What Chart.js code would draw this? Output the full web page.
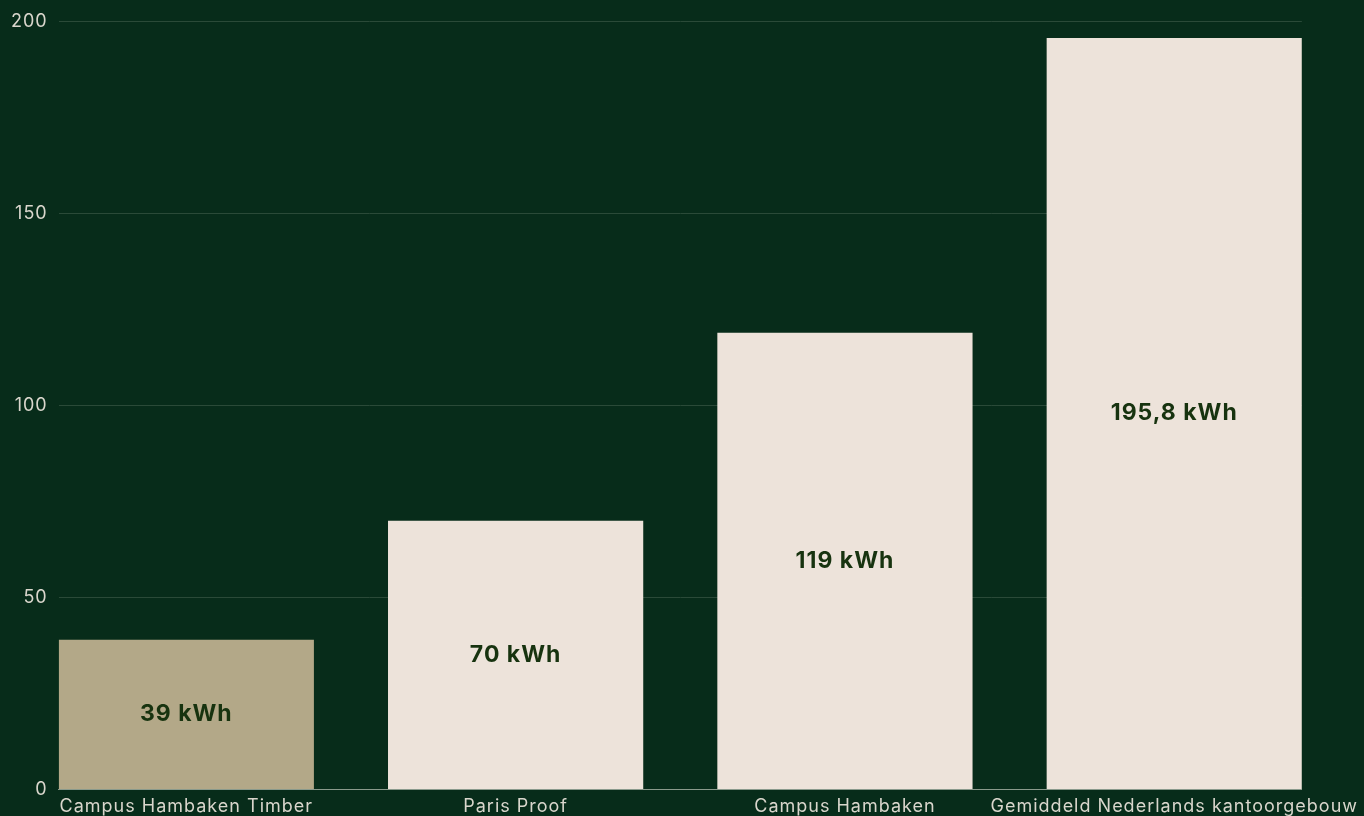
<!DOCTYPE html>
<html>
<head>
<meta charset="utf-8">
<script src="https://cdn.jsdelivr.net/npm/chart.js@4/dist/chart.umd.min.js"></script>
<style>
  html, body { margin: 0; padding: 0; background: #072c1a; }
  #wrap { width: 1364px; height: 816px; }
</style>
</head>
<body>
<div id="wrap"><canvas id="energyChart"></canvas></div>
<script>
const categories = ["Campus Hambaken Timber", "Paris Proof", "Campus Hambaken", "Gemiddeld Nederlands kantoorgebouw"];
const values = [39, 70, 119, 195.8];
const valueLabels = ["39 kWh", "70 kWh", "119 kWh", "195,8 kWh"];
const yTicks = [0, 50, 100, 150, 200];

const barColors = ["#b3a888", "#ede3da", "#ede3da", "#ede3da"];
const font = "Inter, 'Open Sans', sans-serif";

// wider letter spacing so the text takes the room of the original font
const spacing = {
  id: "spacing",
  beforeUpdate(chart) { chart.ctx.letterSpacing = "1px"; },
  beforeDraw(chart) { chart.ctx.letterSpacing = "1px"; },
};

// labels inside the bars, centred on each bar
const barLabels = {
  id: "barLabels",
  afterDatasetsDraw(chart) {
    const { ctx } = chart;
    const meta = chart.getDatasetMeta(0);
    ctx.save();
    ctx.letterSpacing = "1px";
    ctx.font = "bold 23px " + font;
    ctx.fillStyle = "#17330f";
    ctx.textAlign = "center";
    ctx.textBaseline = "middle";
    meta.data.forEach((bar, i) => {
      const mid = (bar.y + bar.base) / 2;
      ctx.fillText(valueLabels[i], bar.x, mid);
    });
    ctx.restore();
  },
};

const energyCtx = document.getElementById("energyChart");
new Chart(energyCtx, {
  type: "bar",
  data: {
    datasets: [
      {
        data: values.map((v, i) => ({ x: i, y: v })),
        backgroundColor: barColors,
        borderWidth: 0,
        barPercentage: 0.775,
        categoryPercentage: 1,
      },
    ],
  },
  options: {
    responsive: true,
    maintainAspectRatio: false,
    animation: false,
    layout: { padding: { top: 16, left: 0, right: -7, bottom: -7 } },
    plugins: {
      legend: { display: false },
      tooltip: { enabled: false },
    },
    scales: {
      x: {
        type: "linear",
        offset: false,
        min: -0.3875,
        max: categories.length - 1 + 0.3875,
        afterBuildTicks(axis) {
          axis.ticks = categories.map((c, i) => ({ value: i }));
        },
        grid: { display: false, drawTicks: false },
        border: { display: true, color: "#8a9a8c", width: 1 },
        ticks: {
          autoSkip: false,
          maxRotation: 0,
          padding: 6,
          color: "#d9d6cc",
          font: { family: font, size: 18 },
          callback: (v) => categories[v] ?? "",
        },
      },
      y: {
        min: 0,
        max: 200,
        afterBuildTicks(axis) {
          axis.ticks = yTicks.map((v) => ({ value: v }));
        },
        grid: { color: "#2a4a38", drawTicks: false },
        border: { display: false },
        ticks: {
          padding: 11,
          color: "#d9d6cc",
          font: { family: font, size: 18 },
        },
      },
    },
  },
  plugins: [spacing, barLabels],
});
</script>
</body>
</html>
